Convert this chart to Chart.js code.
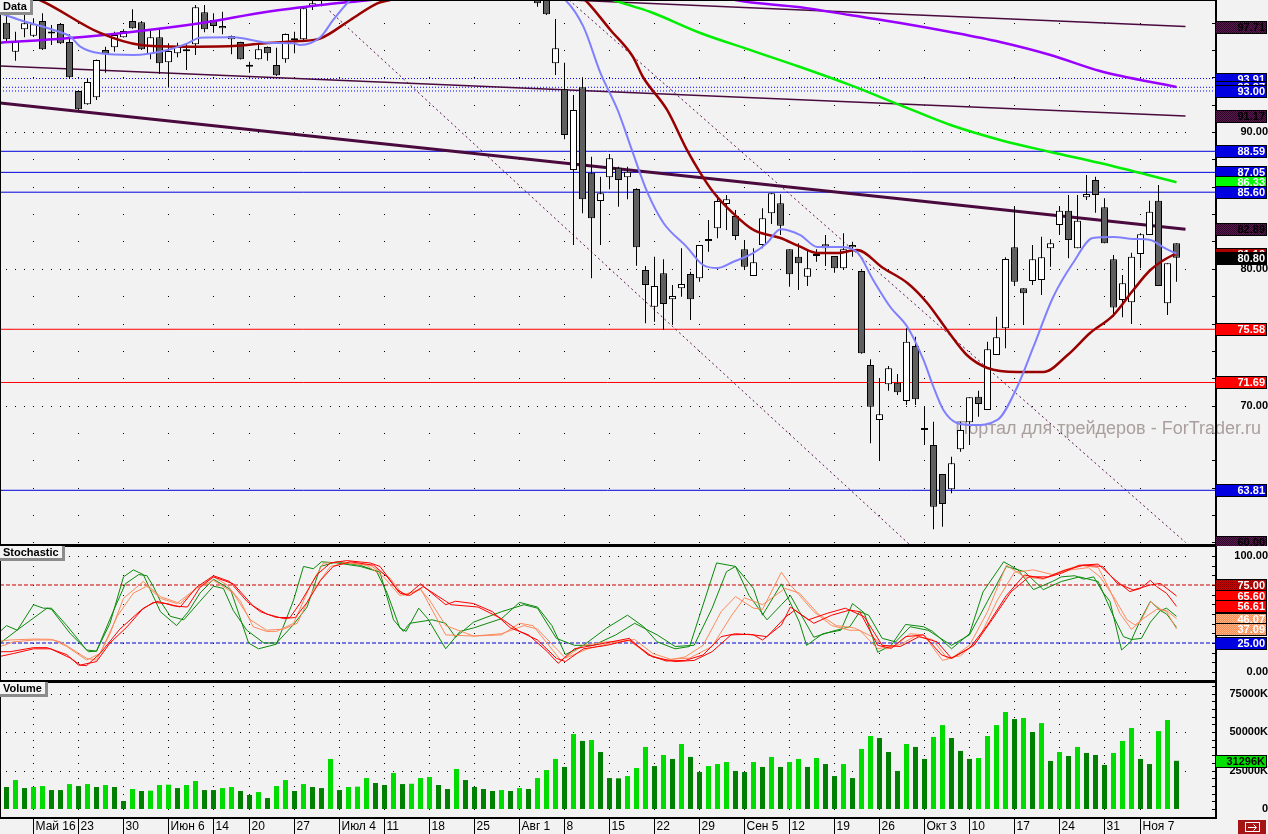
<!DOCTYPE html>
<html>
<head>
<meta charset="utf-8">
<title>Data / Stochastic / Volume</title>
<script src="https://cdn.jsdelivr.net/npm/chart.js@4.4.1/dist/chart.umd.min.js"></script>
<style>
  html, body { margin: 0; padding: 0; background: #f2f2f2; overflow: hidden; }
  #wrap { position: relative; width: 1268px; height: 834px; }
  #wrap canvas { position: absolute; left: 0; }
</style>
</head>
<body>
<div id="wrap">
  <canvas id="price" width="1268" height="546" style="top:0"></canvas>
  <canvas id="stoch" width="1268" height="136" style="top:546px"></canvas>
  <canvas id="volume" width="1268" height="152" style="top:682px"></canvas>
</div>
<script>
// ---- daily candles, index 0 = 11 May ----
const candleOpen = [
  97.99, 95.87, 97.51, 97.04, 98.12, 97.22, 97.90, 96.58, 93.00, 92.03,
  92.54, 96.00, 96.19, 96.92, 98.12, 98.02, 95.70, 96.92, 95.10, 95.75,
  96.05, 96.41, 98.75, 98.19, 97.58, 96.78, 96.58, 94.78, 95.32, 96.21,
  94.90, 95.32, 96.70, 96.78, 99.21, 99.60, 99.90, 100.80, 101.50, 101.10,
  101.90, 102.60, 102.00, 101.00, 100.30, 100.90, 101.60, 101.20, 100.60, 101.00,
  101.80, 102.30, 102.00, 102.50, 102.20, 101.60, 101.90, 101.20, 101.00, 100.40,
  100.20, 95.02, 93.12, 87.22, 93.27, 87.03, 84.96, 86.69, 87.39, 86.69,
  85.83, 79.91, 77.23, 79.67, 77.77, 78.58, 79.62, 79.31, 82.03, 82.96,
  84.74, 83.86, 81.43, 79.47, 81.74, 84.06, 84.79, 81.43, 80.89, 79.42,
  81.08, 81.79, 80.94, 80.04, 81.57, 79.84, 72.97, 68.95, 71.56, 71.67,
  70.34, 74.36, 68.34, 67.12, 65.00, 63.88, 66.81, 68.78, 70.65, 69.68,
  73.70, 75.65, 81.57, 78.57, 79.11, 79.18, 81.50, 83.20, 84.25, 81.50,
  85.23, 86.49, 84.50, 80.70, 77.72, 77.55, 81.08, 82.47, 84.98, 77.48,
  81.86
];
const candleHigh = [
  98.70, 97.33, 98.63, 98.31, 98.68, 97.82, 97.97, 97.14, 93.05, 93.93,
  95.30, 96.24, 97.33, 97.51, 98.97, 98.12, 97.51, 97.58, 96.48, 96.53,
  96.43, 99.28, 99.28, 98.68, 98.80, 97.05, 96.60, 95.14, 96.53, 96.25,
  96.16, 97.20, 97.33, 99.21, 99.90, 100.30, 101.20, 102.00, 101.90, 102.30,
  103.00, 102.90, 102.30, 101.40, 101.30, 101.90, 102.00, 101.50, 101.30, 102.10,
  102.70, 102.60, 102.80, 102.90, 102.40, 102.20, 102.00, 101.50, 101.30, 100.60,
  100.50, 98.26, 95.07, 92.71, 94.00, 88.20, 86.73, 88.39, 87.46, 87.46,
  85.88, 80.21, 80.89, 80.69, 78.82, 81.50, 79.79, 81.74, 83.57, 85.40,
  85.40, 84.30, 82.11, 81.50, 84.42, 85.52, 85.45, 81.43, 81.86, 81.38,
  81.43, 82.47, 80.94, 82.60, 81.98, 79.90, 73.38, 71.99, 72.90, 72.31,
  75.65, 75.04, 69.92, 68.82, 65.00, 66.27, 68.82, 70.61, 71.09, 74.67,
  76.50, 80.84, 84.59, 78.57, 81.74, 82.35, 82.16, 84.59, 85.40, 85.40,
  86.86, 86.73, 85.15, 81.01, 79.55, 81.18, 82.60, 84.98, 86.13, 80.40,
  81.86
];
const candleLow = [
  96.51, 95.21, 96.92, 96.95, 96.00, 96.36, 96.43, 93.90, 91.60, 92.00,
  92.34, 94.34, 95.87, 96.90, 97.55, 96.00, 95.32, 94.24, 93.27, 95.46,
  94.53, 95.63, 97.29, 97.26, 97.14, 95.68, 95.30, 94.34, 95.30, 95.21,
  94.10, 95.07, 95.75, 96.60, 98.92, 99.20, 99.70, 100.50, 100.70, 100.90,
  101.60, 101.50, 100.60, 99.90, 100.00, 100.60, 100.80, 100.20, 100.30, 100.80,
  101.50, 101.60, 101.70, 101.90, 101.30, 101.20, 100.90, 100.60, 100.10, 99.16,
  98.55, 94.17, 89.47, 81.74, 84.06, 79.31, 81.74, 85.81, 84.54, 85.08,
  80.23, 76.02, 76.13, 75.53, 75.89, 77.96, 76.26, 79.06, 81.25, 82.23,
  82.84, 82.11, 79.91, 79.47, 81.50, 83.28, 82.47, 78.69, 78.45, 78.74,
  80.52, 80.20, 79.72, 79.91, 80.89, 73.80, 67.24, 66.02, 71.09, 70.78,
  70.04, 70.04, 67.12, 60.96, 61.15, 63.59, 66.63, 67.12, 69.19, 69.68,
  73.70, 74.19, 78.74, 75.89, 78.82, 78.09, 80.15, 82.47, 80.77, 81.50,
  85.03, 84.10, 81.86, 76.50, 76.45, 75.96, 80.04, 82.47, 78.74, 76.62,
  79.06
];
const candleClose = [
  96.78, 96.67, 97.95, 97.87, 96.05, 97.20, 96.48, 94.00, 91.66, 93.66,
  95.26, 95.68, 97.09, 97.38, 97.58, 96.05, 96.92, 95.02, 95.92, 96.29,
  95.90, 99.12, 97.51, 97.75, 97.75, 97.02, 95.32, 94.77, 96.05, 95.75,
  94.15, 97.16, 96.80, 99.04, 99.41, 99.90, 100.80, 101.50, 101.10, 101.90,
  102.60, 102.00, 101.00, 100.30, 100.90, 101.60, 101.20, 100.60, 101.00, 101.80,
  102.30, 102.00, 102.50, 102.20, 101.60, 101.90, 101.20, 101.00, 100.40, 99.41,
  98.60, 96.12, 89.78, 91.61, 85.08, 83.69, 85.52, 88.08, 86.49, 87.10,
  81.57, 78.82, 78.74, 77.43, 78.01, 78.89, 77.77, 81.74, 82.18, 84.96,
  85.08, 82.40, 80.15, 80.48, 83.69, 85.52, 83.15, 79.60, 80.40, 80.04,
  80.94, 81.50, 80.04, 81.43, 81.74, 73.82, 69.92, 69.36, 72.73, 70.97,
  74.67, 70.46, 68.22, 62.61, 62.81, 65.78, 68.22, 70.61, 70.12, 74.12,
  75.00, 80.72, 79.06, 78.21, 80.70, 80.84, 81.86, 84.25, 82.11, 83.52,
  85.47, 85.40, 81.86, 77.18, 78.94, 80.89, 82.52, 84.17, 78.74, 80.40,
  80.80
];
// volume in thousands
const volumeK = [
  14300, 18800, 13600, 14300, 14900, 12300, 12300, 16200, 14900, 16200,
  14300, 15600, 14300, 5200, 13000, 11700, 11900, 15600, 15800, 13600,
  15600, 18200, 12300, 12300, 13600, 14300, 11700, 9100, 11000, 7100,
  14900, 18800, 11700, 16200, 14300, 13600, 32500, 12300, 14300, 14500,
  20100, 16900, 15600, 23400, 16200, 16400, 20100, 20800, 15600, 13000,
  26000, 18800, 14300, 13000, 11700, 12300, 11700, 13600, 13000, 20100,
  25300, 32500, 27300, 48700, 44200, 44800, 37000, 20100, 19900, 21400,
  26600, 40300, 27900, 35100, 32500, 42200, 33800, 24000, 27900, 29200,
  30500, 24700, 24000, 30500, 27300, 33800, 27300, 30500, 32500, 27300,
  33100, 29200, 21400, 29200, 20100, 39000, 47400, 46100, 37000, 24700,
  42200, 40300, 32500, 46800, 54500, 46100, 37700, 32500, 33100, 47400,
  54500, 63000, 58400, 59100, 50000, 55800, 31200, 37000, 34400, 40300,
  36400, 35100, 28600, 36400, 44200, 52600, 32500, 29200, 50600, 57800,
  31296
];

// week starts on the time axis
const tickIdx = [3, 8, 13, 18, 23, 27, 32, 37, 42, 47, 52, 57, 62, 67, 72, 77, 82, 87, 92, 97, 102, 107, 112, 117, 122, 126];
const tickText = ['Май 16', '23', '30', 'Июн 6', '14', '20', '27', 'Июл 4', '11', '18', '25', 'Авг 1', '8', '15', '22', '29',
  'Сен 5', '12', '19', '26', 'Окт 3', '10', '17', '24', '31', 'Ноя 7'];
const priceTicks = [70, 80, 90];
const stochTicks = [0, 100];
const volTicks = [0, 25000, 50000, 75000];

// moving averages, [bar index, price]
const maBlue = [[-0.7, 98.68], [1.5, 98.19], [5.5, 97.4], [7.1, 96.97], [8.2, 96.24], [10.4, 95.75], [14.1, 95.63], [17.9, 96.0],
  [20.1, 96.48], [21.5, 96.89], [25.2, 96.92], [29, 96.53], [31.9, 96.48], [32.6, 96.36], [34.9, 96.95], [36.3, 98.19],
  [38.2, 99.65], [42, 101.5], [50, 102.2], [57, 101.5], [62.1, 99.65], [64.1, 97.7], [66, 94.31], [67.9, 91.61], [69.6, 88.47],
  [71.2, 85.6], [73, 83.35], [75.6, 81.59], [77.4, 80.28], [79, 80.06], [80.7, 80.5], [83, 81.16], [84.5, 81.89], [86, 82.9],
  [88.2, 82.47], [90.1, 81.59], [92.6, 81.59], [94.5, 81.23], [96.3, 79.18], [98.2, 77.21], [100.1, 75.75], [101.9, 73.33],
  [103, 71.36], [104.1, 69.68], [105.6, 68.73], [107.4, 68.58], [110.1, 68.95], [112.3, 71.36], [114.1, 74.29], [116.3, 77.94],
  [118.5, 80.42], [120.7, 82.25], [123, 82.33], [125.2, 82.18], [127.1, 82.11], [128.5, 81.59], [130, 81.1]];
const maRed = [[-0.7, 100.6], [3.7, 99.65], [10.4, 97.24], [14.9, 96.36], [19.3, 96.24], [25.2, 96.29], [29, 96.51], [32.6, 96.65],
  [34.9, 96.85], [38.2, 98.19], [41.2, 99.41], [42.6, 99.65], [50, 101.5], [57, 101.8], [62, 100.8], [64.3, 99.65], [67.1, 97.46],
  [69.6, 95.5], [70.7, 94.04], [73.4, 91.61], [75.6, 88.69], [77.1, 87.0], [78.5, 85.64], [80.7, 84.08], [83, 82.84], [86, 82.25],
  [88.2, 81.62], [90.1, 81.16], [92.3, 81.16], [94.5, 81.38], [97.4, 80.06], [100.1, 78.96], [102.3, 77.5], [104.5, 75.53],
  [106.7, 73.7], [109, 72.75], [112.3, 72.46], [115.2, 72.46], [117.9, 73.7], [120.4, 75.31], [123, 76.62], [125.2, 78.45],
  [127.1, 79.91], [129.6, 81.01], [130, 81.1]];
const maGreen = [[60, 101.5], [67.4, 99.65], [71.5, 98.79], [77.1, 97.24], [82.6, 96.0], [88.2, 94.75], [93.7, 93.44], [99.3, 91.97],
  [104.9, 90.51], [110.4, 89.42], [116, 88.54], [121.5, 87.73], [130, 86.33]];
const maPurple = [[-0.7, 96.53], [6.7, 96.85], [14.1, 97.33], [21.5, 97.95], [29, 98.79], [34.9, 99.28], [40.4, 99.65], [50, 100.4],
  [60, 100.7], [70, 100.6], [78, 100.2], [81, 99.65], [88.2, 99.12], [93.7, 98.55], [99.3, 97.97], [104.9, 97.31], [110.4, 96.58],
  [116, 95.63], [121.5, 94.46], [130, 93.29]];

// drawn trend lines, [bar index, price]
const trendThick = [[-0.7, 92.12], [131, 82.89]];
const trendThin1 = [[-0.7, 94.83], [131, 91.17]];
const trendThin2 = [[62.6, 99.65], [131, 97.71]];
const dashDown1 = [[35.9, 98.85], [100.4, 59.81]];
const dashDown2 = [[62.5, 99.65], [131, 60.00]];

// horizontal levels
const blueLevels = [88.59, 87.05, 85.60, 63.81];
const blueDotLevels = [93.91, 93.27, 93.00];
const redLevels = [75.58, 71.69];
const stochLevels = [75, 25];

// stochastic lines, [bar index, value]
const stochGreen1 = [[-0.7, 35], [0, 40], [1.2, 36], [3, 58], [4.1, 55], [5, 55], [6.7, 40], [8.9, 19], [10, 18], [11.5, 42], [13, 82],
  [14.1, 88], [15.2, 84], [17.1, 52], [18.9, 40], [20.2, 52], [21.5, 68], [23, 80], [24.9, 71], [26.9, 25], [28, 20], [30, 24],
  [31.9, 62], [33, 91], [34.1, 89], [35, 95], [36.7, 94], [39.3, 91], [41.1, 87], [42.3, 68], [43.7, 38], [44.4, 35], [45.8, 55],
  [46.8, 46], [48.8, 20], [50.4, 35], [51.9, 38], [55, 46], [57, 60], [59, 56], [60.6, 40], [62.1, 15], [64.1, 23], [66.7, 38],
  [69, 49], [70.8, 39], [72.3, 26], [74.3, 20], [75.9, 22], [78.9, 94], [81, 91], [83, 72], [84, 49], [86.1, 76], [88.1, 43],
  [88.9, 23], [90.7, 33], [92.7, 36], [94, 59], [95.3, 51], [96.8, 17], [98.3, 23], [99.9, 41], [101.9, 39], [102.9, 35], [105, 20],
  [107, 33], [108.5, 69], [110.8, 95], [112.4, 88], [114.1, 71], [116.2, 78], [117.2, 82], [118.7, 83], [119.7, 80], [120.8, 82],
  [121.8, 69], [122.6, 61], [123.9, 19], [124.9, 26], [126, 45], [127.1, 61], [128.2, 53], [128.9, 55], [130, 48]];
const stochGreen2 = [[-0.7, 25], [1.5, 38], [4.5, 55], [5, 54], [7.1, 33], [9.1, 17.5], [10, 18], [11.9, 53], [13.2, 76], [14.7, 84],
  [15.6, 83], [16.3, 74], [17.1, 61], [18.2, 48], [19.7, 45], [21.5, 61], [23, 74], [24.1, 72], [25.2, 53], [26.7, 36], [28.6, 25],
  [30, 25], [31.9, 41], [33.4, 56], [34.9, 91], [36.7, 95], [39.3, 92], [41.5, 86], [43, 45], [44.1, 35], [44.8, 42], [47.3, 45],
  [48.8, 42], [49.9, 30], [51.9, 43], [55, 52], [57.5, 58], [59, 55], [61.1, 29], [63.1, 23], [65.2, 23], [67.7, 32], [69.8, 42],
  [72.3, 32], [74.3, 22], [76.4, 23], [78.4, 55], [80, 86.5], [81, 91], [82.5, 66], [84.5, 45], [86.1, 58], [87.1, 66], [88.1, 52],
  [89.7, 30], [91.7, 35], [93.7, 39], [94.8, 52], [95.8, 49], [97.3, 29], [98.8, 26], [100.4, 39], [102.4, 36], [105, 23], [107, 32],
  [109, 61], [111.1, 91], [113.1, 86.5], [115.2, 71], [117.2, 78], [119.2, 82], [121.3, 78], [123, 48], [124.1, 30.5], [125, 28],
  [126.1, 29], [127.1, 43], [128.2, 53], [128.9, 50], [130, 38.5]];
const stochOrange1 = [[-0.7, 26.7], [0.4, 27.6], [3, 28.4], [4.9, 28.2], [6, 26], [8.9, 11.8], [10, 10.3], [11.5, 33], [13, 63.5],
  [15.2, 78], [17.1, 65], [19.3, 59], [21.1, 72], [23, 82], [24.5, 75], [26, 61], [27.4, 39], [28.9, 35], [30, 35], [31.9, 42],
  [33.7, 73.6], [35.2, 93.7], [37.1, 95], [40, 92], [41.9, 82], [43.7, 66], [45.2, 69], [46, 72], [48.8, 32], [51.9, 31], [55, 32],
  [57, 42], [58.5, 40], [61.6, 10], [64.1, 23], [66.7, 26], [69.2, 27], [71.3, 15], [73.3, 10], [75.4, 13], [77.4, 23], [79.4, 52],
  [81, 65], [83, 55], [84, 54], [86.1, 86], [87.1, 75], [89.7, 52], [91.7, 40], [93.7, 36], [94.8, 36], [96.8, 20], [98.8, 23],
  [100.4, 33], [101.9, 32], [104, 10], [105, 12], [107, 23], [109, 52], [111.1, 92], [113.1, 82], [115.2, 80], [117.2, 87],
  [119.2, 92], [121.3, 90], [122.6, 70.7], [123.7, 50.6], [125, 36.8], [126, 43.4], [127.1, 60.6], [128.2, 54.3], [128.9, 52],
  [130, 37.09]];
const stochOrange2 = [[-0.7, 22], [0.8, 26], [3, 27.6], [5.2, 27.6], [6.7, 22], [8.9, 10.3], [10.4, 16], [12.3, 48], [14.1, 68],
  [15.6, 74], [17.1, 63.5], [18.9, 59], [21.1, 72], [23, 79], [25.2, 68], [27.1, 45], [28.9, 36], [30.8, 37], [32.3, 42], [34.1, 71],
  [36, 91], [37.8, 94], [40.4, 92], [42.6, 81], [44.1, 66], [46, 71], [47, 62], [48.8, 40], [51.9, 31], [55, 33], [57.5, 40], [59, 37],
  [62.1, 12], [64.6, 20], [67.2, 25], [69.8, 28], [71.8, 16], [73.8, 11], [75.9, 12], [78.4, 22], [80.5, 48], [82, 64], [84, 58],
  [86.5, 72], [88.1, 68], [90.2, 50], [92.2, 40], [94.2, 38], [96.3, 30], [97.8, 20], [99.4, 24], [101, 31], [102.9, 28], [104.5, 12],
  [106, 14], [108, 28], [110.1, 62], [112, 86], [114.1, 88], [116.2, 84], [118.2, 88], [120.2, 90], [121.5, 82], [123, 65],
  [124.5, 45], [125.4, 40.5], [126.3, 46], [127.8, 54], [128.9, 53], [130, 46.07]];
const stochRed1 = [[-0.7, 17.5], [0.4, 17.5], [3, 21], [4.5, 21], [6.7, 15], [8, 6], [8.9, 5.5], [10.4, 16], [12.6, 37], [14.9, 53],
  [16.3, 60], [17.8, 59], [19.3, 56], [21.1, 73], [23, 83], [24.8, 78], [26.7, 61], [28.2, 52], [30, 47], [31.5, 47], [32.6, 59],
  [34.5, 84], [36, 94], [37.8, 96], [40.4, 94], [41.5, 91], [43.4, 71], [44.5, 66], [46, 76], [48.8, 58], [49.9, 61], [51.9, 59],
  [54, 52], [56, 38], [58, 32], [60.1, 17.5], [61.3, 7.5], [63.1, 20], [65.2, 23], [67.2, 26], [69.2, 29], [71.3, 14.7], [73.3, 9.5],
  [75.4, 10], [77.4, 14.7], [79.4, 30.5], [81, 33], [83, 32], [84, 27.6], [86.1, 40.5], [87.1, 56], [88.1, 50.6], [89.7, 42],
  [91.7, 49], [93.7, 53.4], [94.8, 52], [96.8, 23], [98.3, 20.4], [99.9, 30.5], [101.9, 32], [103.9, 14.7], [105, 11.8], [107, 20.4],
  [109, 40.5], [111.1, 66], [113.1, 83.6], [115.2, 80.7], [117.2, 85], [119.2, 92], [121.3, 93], [123, 80.7], [124.8, 69.3],
  [126, 72], [127.1, 79], [127.8, 73.6], [128.9, 67.8], [130, 56.61]];
const stochRed2 = [[-0.7, 13.5], [0.8, 16], [3, 20], [4.9, 20], [7.1, 12], [8.2, 6], [10, 9], [11.5, 25], [13.4, 39], [15.2, 55],
  [16.7, 61], [18.6, 57], [20.1, 56], [21.5, 73], [23, 82], [25.2, 76], [27.4, 57], [28.9, 50], [30.8, 46], [32.1, 47], [33.4, 60],
  [34.9, 79], [36.3, 91], [38.2, 95], [40.8, 92], [42.3, 82], [43.7, 68], [44.8, 66], [46.3, 73.6], [49.4, 58], [52.4, 56], [55, 46],
  [57, 35], [59, 27.6], [61.1, 11.8], [62.1, 9], [64.1, 20], [66.7, 23], [69.2, 27.6], [71.8, 13], [74.3, 9], [76.4, 10], [78.4, 17.5],
  [80.5, 32], [82.5, 32.5], [84.5, 30.5], [86.6, 47.7], [87.6, 53.4], [89.1, 45], [91.2, 50.6], [93.2, 55], [95.3, 47.7], [97.3, 23],
  [99.3, 22], [101.4, 30.5], [103.4, 26], [105, 11.8], [107.5, 23], [109.5, 45], [111.6, 69], [113.6, 82], [115.7, 82], [117.7, 88],
  [119.7, 92], [121.8, 91], [123.4, 76.4], [125.2, 70.7], [127.1, 75], [128.2, 76.4], [130, 65.6]];

// ---- look ----
const FONT = '"Liberation Sans", Arial, sans-serif';
const BOLD = 'bold 11px ' + FONT;
const BG = '#f2f2f2';
Chart.defaults.font.family = FONT;

// bar i is centred at 6.5 + 9*i px; plot area is 1215 px wide
const X_MIN = -6.5 / 9;
const X_MAX = X_MIN + 1215 / 9;

function hatch(a, b) {
  const c = document.createElement('canvas');
  c.width = c.height = 2;
  const g = c.getContext('2d');
  g.fillStyle = a; g.fillRect(0, 0, 2, 2);
  g.fillStyle = b; g.fillRect(0, 0, 1, 1); g.fillRect(1, 1, 1, 1);
  return g.createPattern(c, 'repeat');
}
const TAG_STYLE = {
  trend: [hatch('#5a1a50', '#2c0626'), '#000'],
  blue: ['#0000e0', '#fff'],
  red: ['#ff0000', '#fff'],
  ma: ['#00ff00', '#fff'],
  maRed: ['#aa0000', '#fff'],
  last: ['#000', '#fff'],
  level75: [hatch('#cc0000', '#880000'), '#fff'],
  orange: [hatch('#ff8a50', '#ffb488'), '#fff'],
  vol: ['#00e000', '#000']
};

const meas = document.createElement('canvas').getContext('2d');
function axisPad(labels) {
  meas.font = BOLD;
  return 50 - Math.max(...labels.map(t => meas.measureText(t).width));
}

function drawTag(ctx, left, y, text, fill, ink) {
  const top = Math.round(y) - 6;
  ctx.fillStyle = '#000';
  ctx.fillRect(left, top, 52, 13);
  ctx.fillStyle = fill;
  ctx.fillRect(left + 1, top + 1, 50, 11);
  ctx.fillStyle = ink;
  ctx.font = BOLD;
  ctx.textAlign = 'right';
  ctx.textBaseline = 'middle';
  ctx.fillText(text, left + 50, top + 7);
}

function drawTitle(ctx, top, text) {
  ctx.font = BOLD;
  const w = Math.ceil(ctx.measureText(text).width) + 6;
  ctx.fillStyle = '#8c8c8c';
  ctx.fillRect(0, top, w + 3, 15);
  ctx.fillStyle = '#f4f4f4';
  ctx.fillRect(0, top, w, 12);
  ctx.fillStyle = '#000';
  ctx.textAlign = 'left';
  ctx.textBaseline = 'middle';
  ctx.fillText(text, 3, top + 6.5);
}

const pts = arr => arr.map(p => ({x: p[0], y: p[1]}));
const last = arr => arr[arr.length - 1][1];

function lineSet(points, color, width, extra) {
  return Object.assign({type: 'line', data: pts(points), borderColor: color, borderWidth: width,
    pointRadius: 0, fill: false}, extra || {});
}
function levelSet(v, color, dash, order) {
  return lineSet([[X_MIN, v], [X_MAX, v]], color, 1, {borderDash: dash || [], order: order});
}

function xScale(show) {
  return {
    type: 'linear', min: X_MIN, max: X_MAX, offset: false, display: show, position: 'bottom',
    grid: {display: false, drawTicks: false},
    border: {display: false},
    afterBuildTicks: s => { s.ticks = tickIdx.map(v => ({value: v})); },
    afterFit: s => { s.height = show ? 17 : 0; s.paddingLeft = 0; s.paddingRight = 0; },
    ticks: {autoSkip: false, maxRotation: 0, minRotation: 0, align: 'start', labelOffset: 2, padding: 2,
      color: '#000', font: {size: 12}, callback: (v, i) => tickText[i]}
  };
}
function yScale(min, max, ticks, fmt) {
  return {
    type: 'linear', position: 'right', min: min, max: max,
    grid: {display: false, drawTicks: false},
    border: {display: false},
    afterBuildTicks: s => { s.ticks = ticks.map(v => ({value: v})); },
    afterFit: s => { s.width = 53; s.paddingTop = 0; s.paddingBottom = 0; },
    ticks: {crossAlign: 'far', padding: axisPad(ticks.map(fmt)), color: '#000',
      font: {size: 11, weight: 'bold'}, callback: v => fmt(v)}
  };
}

// background, dotted grid, frame, value tags and pane title
function pane(o) {
  return {
    id: 'pane',
    beforeDraw(chart) {
      const ctx = chart.ctx;
      ctx.save();
      ctx.fillStyle = BG;
      ctx.fillRect(0, 0, chart.width, chart.height);
      ctx.restore();
    },
    beforeDatasetsDraw(chart) {
      const {ctx, chartArea: a, scales: {x, y}} = chart;
      ctx.save();
      ctx.fillStyle = '#000';
      const minors = [];
      for (let v = o.minorStart; v <= y.max + 1e-6; v += o.minorStep) minors.push(Math.round(y.getPixelForValue(v)));
      tickIdx.forEach(t => {
        const px = Math.floor(x.getPixelForValue(t));
        minors.forEach(py => ctx.fillRect(px, py, 1, 1));
      });
      o.rows.forEach(v => {
        const py = Math.round(y.getPixelForValue(v));
        for (let i = 0; i <= candleClose.length; i++) ctx.fillRect(Math.floor(x.getPixelForValue(i)), py, 1, 1);
      });
      minors.forEach(py => ctx.fillRect(a.right - 3, py, 3, 1));
      if (o.watermark) {
        ctx.font = '18px ' + FONT;
        ctx.fillStyle = '#aa9e9e';
        ctx.textAlign = 'right';
        ctx.textBaseline = 'alphabetic';
        ctx.fillText(o.watermark, 1261, 434);
      }
      ctx.restore();
    },
    afterDraw(chart) {
      const {ctx, chartArea: a, scales: {x, y}} = chart;
      ctx.save();
      ctx.fillStyle = '#000';
      ctx.fillRect(0, a.top, 1, a.bottom - a.top);
      ctx.fillRect(0, a.top, a.right + 2, o.topLine);
      if (o.axisBelow) {
        ctx.fillRect(0, a.bottom, a.right + 2, 2);
        ctx.fillRect(a.right, a.top, 2, a.bottom + 2 - a.top);
        tickIdx.forEach(t => ctx.fillRect(Math.floor(x.getPixelForValue(t)), a.bottom + 2, 1, chart.height - a.bottom - 2));
        // little exit button in the corner
        ctx.fillStyle = '#a51515';
        ctx.fillRect(1238, a.bottom + 3, 28, 14);
        ctx.strokeStyle = '#fff';
        ctx.lineWidth = 1;
        ctx.strokeRect(1245.5, a.bottom + 5.5, 14, 9);
        ctx.beginPath();
        ctx.moveTo(1248, a.bottom + 10.5); ctx.lineTo(1256, a.bottom + 10.5);
        ctx.moveTo(1253.5, a.bottom + 7.5); ctx.lineTo(1256.5, a.bottom + 10.5); ctx.lineTo(1253.5, a.bottom + 13.5);
        ctx.stroke();
      } else {
        ctx.fillRect(0, a.bottom - 2, a.right + 2, 2);
        ctx.fillRect(a.right, a.top, 2, a.bottom - a.top);
      }
      o.tags().sort((p, q) => q[0] - p[0]).forEach(([v, kind]) => {
        const st = TAG_STYLE[kind];
        drawTag(ctx, a.right, y.getPixelForValue(v), o.fmt(v), st[0], st[1]);
      });
      drawTitle(ctx, a.top + o.topLine - 1, o.title);
      ctx.restore();
    }
  };
}

const baseOptions = {
  responsive: false, animation: false, devicePixelRatio: 1,
  layout: {padding: 0, autoPadding: false},
  plugins: {legend: {display: false}, tooltip: {enabled: false}}
};
const fmt2 = v => v.toFixed(2);

// ---- price pane ----
const bodyColors = candleClose.map((c, i) => c > candleOpen[i] ? '#ffffff' : '#5f5f5f');
new Chart(document.getElementById('price'), {
  type: 'bar',
  data: {
    datasets: [
      lineSet(maBlue, '#8080ff', 2, {cubicInterpolationMode: 'monotone', order: 0}),
      lineSet(maRed, '#990000', 2.5, {cubicInterpolationMode: 'monotone', order: 0}),
      lineSet(maGreen, '#00ee00', 2.5, {cubicInterpolationMode: 'monotone', order: 0}),
      lineSet(maPurple, '#9900ff', 2.5, {cubicInterpolationMode: 'monotone', order: 0}),
      {type: 'bar', data: candleOpen.map((o, i) => ({x: i, y: [o, candleClose[i]]})), backgroundColor: bodyColors,
        borderColor: '#000', borderWidth: 1, borderSkipped: false, barThickness: 7, grouped: false,
        inflateAmount: 0, minBarLength: 2, clip: 0, order: 1},
      {type: 'bar', data: candleLow.map((l, i) => ({x: i, y: [l, candleHigh[i]]})), backgroundColor: '#000',
        barThickness: 1, grouped: false, inflateAmount: 0, clip: 0, order: 2},
      lineSet(trendThick, '#4a0a3e', 3, {order: 3}),
      lineSet(trendThin1, '#4a0a3e', 1.5, {order: 3}),
      lineSet(trendThin2, '#4a0a3e', 1.5, {order: 3}),
      lineSet(dashDown1, '#5c1050', 1, {borderDash: [2, 3], order: 3}),
      lineSet(dashDown2, '#5c1050', 1, {borderDash: [2, 3], order: 3}),
      ...blueLevels.map(v => levelSet(v, '#0000dd', [], 4)),
      ...blueDotLevels.map(v => levelSet(v, '#0000ff', [1, 2], 4)),
      ...redLevels.map(v => levelSet(v, '#ff0000', [], 4))
    ]
  },
  options: Object.assign({}, baseOptions, {
    scales: {x: xScale(false), y: yScale(99.65 - 546 * 0.0731, 99.65, priceTicks, fmt2)}
  }),
  plugins: [pane({
    title: 'Data', topLine: 1, minorStart: 60, minorStep: 2, rows: priceTicks, fmt: fmt2,
    watermark: 'Портал для трейдеров - ForTrader.ru',
    tags: () => [
      [last(trendThin2), 'trend'], [last(trendThin1), 'trend'], [last(trendThick), 'trend'], [last(dashDown2), 'trend'],
      ...blueDotLevels.map(v => [v, 'blue']), ...blueLevels.map(v => [v, 'blue']), ...redLevels.map(v => [v, 'red']),
      [last(maGreen), 'ma'], [last(maRed), 'maRed'], [candleClose[candleClose.length - 1], 'last']
    ]
  })]
});

// ---- stochastic pane ----
new Chart(document.getElementById('stoch'), {
  type: 'line',
  data: {
    datasets: [
      lineSet(stochRed1, '#ff0000', 1, {order: 0}),
      lineSet(stochRed2, '#ff0000', 1, {order: 0}),
      lineSet(stochOrange1, '#ff8a5c', 1, {order: 1}),
      lineSet(stochOrange2, '#ff8a5c', 1, {order: 1}),
      lineSet(stochGreen1, '#0b8a0b', 1, {order: 2}),
      lineSet(stochGreen2, '#0b8a0b', 1, {order: 2}),
      levelSet(stochLevels[0], '#cc0000', [4, 2], 3),
      levelSet(stochLevels[1], '#0000cc', [4, 2], 3)
    ]
  },
  options: Object.assign({}, baseOptions, {
    scales: {x: xScale(false), y: yScale(-8.6, 108.6, stochTicks, fmt2)}
  }),
  plugins: [pane({
    title: 'Stochastic', topLine: 1, minorStart: 0, minorStep: 100 / 12, rows: stochTicks, fmt: fmt2,
    tags: () => [
      [stochLevels[0], 'level75'], [stochLevels[1], 'blue'],
      [last(stochRed1), 'red'], [last(stochRed2), 'red'],
      [last(stochOrange1), 'orange'], [last(stochOrange2), 'orange']
    ]
  })]
});

// ---- volume pane ----
const volFmt = v => v === 0 ? '0' : v + 'K';
new Chart(document.getElementById('volume'), {
  type: 'bar',
  data: {
    datasets: [{
      data: volumeK.map((v, i) => ({x: i, y: v})),
      backgroundColor: volumeK.map((v, i) => i > 0 && v > volumeK[i - 1] ? '#00dc00' : '#008000'),
      barThickness: 5, grouped: false, inflateAmount: 0, borderWidth: 0, clip: 0
    }]
  },
  options: Object.assign({}, baseOptions, {
    scales: {x: xScale(true), y: yScale(-5195, 82468, volTicks, volFmt)}
  }),
  plugins: [pane({
    title: 'Volume', topLine: 1, minorStart: 0, minorStep: 5000, rows: volTicks.slice(1), fmt: volFmt,
    axisBelow: true,
    tags: () => [[volumeK[volumeK.length - 1], 'vol']]
  })]
});
</script>
</body>
</html>
